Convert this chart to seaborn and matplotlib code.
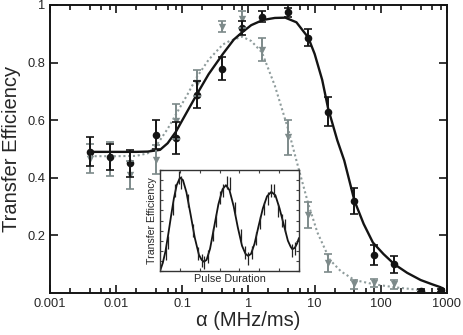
import numpy as np
import pandas as pd
import matplotlib
matplotlib.use("Agg")
import matplotlib.pyplot as plt
import matplotlib.ticker as mticker
import seaborn as sns

# ---------------- data ----------------
# black circles (measured)
alpha_black = [0.004, 0.008, 0.016, 0.04, 0.08, 0.166, 0.4, 0.8, 1.6, 4, 8, 16, 40, 80, 160, 400, 800]
eff_black = [0.49, 0.473, 0.451, 0.55, 0.538, 0.689, 0.778, 0.92, 0.96, 0.974, 0.887, 0.63, 0.32, 0.132, 0.10, 0.008, 0.01]
err_black = [0.05, 0.045, 0.047, 0.05, 0.054, 0.048, 0.04, 0.025, 0.02, 0.015, 0.03, 0.05, 0.045, 0.035, 0.03, 0.005, 0.005]

# grey triangles (measured)
alpha_grey = [0.004, 0.008, 0.016, 0.04, 0.08, 0.166, 0.4, 0.8, 1.6, 4, 8, 16, 40, 80, 160]
eff_grey = [0.466, 0.465, 0.41, 0.463, 0.596, 0.729, 0.925, 0.95, 0.845, 0.54, 0.27, 0.104, 0.03, 0.035, 0.03]
err_grey = [0.05, 0.06, 0.05, 0.05, 0.06, 0.044, 0.02, 0.03, 0.04, 0.06, 0.045, 0.03, 0.015, 0.015, 0.015]

# black fit curve
fit_black_x = [0.004, 0.01, 0.02, 0.03, 0.046, 0.06, 0.08, 0.1, 0.166, 0.25, 0.41, 0.6, 0.8, 1.1, 1.65, 2.5,
               3.6, 5.3, 8, 10, 13, 16, 22, 28, 40, 55, 76, 110, 160, 250, 400, 600, 800]
fit_black_y = [0.49, 0.49, 0.49, 0.491, 0.497, 0.52, 0.56, 0.6, 0.69, 0.76, 0.83, 0.88, 0.905, 0.93, 0.948, 0.955,
               0.956, 0.94, 0.887, 0.83, 0.74, 0.64, 0.53, 0.46, 0.32, 0.24, 0.175, 0.135, 0.10, 0.07, 0.045, 0.03, 0.02]

# grey dotted fit curve
fit_grey_x = [0.004, 0.01, 0.02, 0.03, 0.04, 0.06, 0.08, 0.12, 0.166, 0.25, 0.41, 0.52, 0.8, 1.1, 1.6, 2.5,
              4, 5.3, 8, 11, 17, 25, 40, 80, 160, 400]
fit_grey_y = [0.475, 0.475, 0.476, 0.485, 0.51, 0.57, 0.62, 0.69, 0.75, 0.81, 0.863, 0.875, 0.89, 0.875, 0.835, 0.72,
              0.567, 0.46, 0.31, 0.21, 0.115, 0.075, 0.045, 0.03, 0.02, 0.01]

# inset: oscillation vs pulse duration (normalised units)
inset_curve_x = [0.0, 0.02, 0.04, 0.06, 0.08, 0.1, 0.12, 0.144, 0.165, 0.19, 0.22, 0.25, 0.28, 0.3, 0.316, 0.335,
                 0.36, 0.39, 0.42, 0.45, 0.474, 0.5, 0.53, 0.56, 0.59, 0.615, 0.634, 0.655, 0.68, 0.71, 0.74,
                 0.77, 0.801, 0.83, 0.86, 0.89, 0.92, 0.94, 0.952, 0.97, 0.985, 1.0]
inset_curve_y = [0.0, 0.08, 0.2, 0.37, 0.55, 0.72, 0.85, 0.925, 0.9, 0.78, 0.56, 0.33, 0.16, 0.11, 0.092, 0.11,
                 0.22, 0.44, 0.66, 0.81, 0.85, 0.8, 0.64, 0.43, 0.25, 0.17, 0.15, 0.17, 0.27, 0.45, 0.62,
                 0.74, 0.784, 0.75, 0.62, 0.46, 0.3, 0.24, 0.216, 0.23, 0.27, 0.327]
inset_pts_x = [0.04, 0.06, 0.09, 0.11, 0.135, 0.15, 0.2, 0.24, 0.27, 0.3, 0.32, 0.345, 0.38, 0.4, 0.43, 0.455,
               0.48, 0.5, 0.54, 0.58, 0.61, 0.635, 0.66, 0.69, 0.72, 0.75, 0.78, 0.8, 0.82, 0.85, 0.88, 0.9,
               0.95, 0.97]
inset_pts_y = [0.17, 0.28, 0.62, 0.8, 0.93, 0.88, 0.7, 0.4, 0.17, 0.1, 0.08, 0.14, 0.36, 0.5, 0.73, 0.8,
               0.88, 0.87, 0.62, 0.35, 0.18, 0.12, 0.18, 0.32, 0.48, 0.62, 0.72, 0.8, 0.8, 0.6, 0.5, 0.45,
               0.2, 0.22]

black = "#141414"
grey = "#7d8a8a"

sns.set_style("ticks")
plt.rcParams["font.family"] = ["Liberation Sans", "DejaVu Sans"]

fig = plt.figure(figsize=(4.63, 3.35), dpi=100)
ax = fig.add_axes([0.108, 0.1254, 0.8574, 0.8597])

# fit curves
sns.lineplot(x=fit_grey_x, y=fit_grey_y, ax=ax, color="#8f9c9c", lw=1.5, linestyle=(0, (1, 1.3)), sort=False)
sns.lineplot(x=fit_black_x, y=fit_black_y, ax=ax, color=black, lw=1.7, sort=False)

# data points
ax.errorbar(alpha_grey, eff_grey, yerr=err_grey, fmt="none", ecolor=grey, elinewidth=1.4, capsize=2.6, capthick=1.2)
sns.scatterplot(x=alpha_grey, y=eff_grey, ax=ax, marker="v", color=grey, s=28, linewidth=0)
ax.errorbar(alpha_black, eff_black, yerr=err_black, fmt="none", ecolor=black, elinewidth=1.4, capsize=2.6, capthick=1.2)
sns.scatterplot(x=alpha_black, y=eff_black, ax=ax, marker="o", color=black, s=30, linewidth=0)

ax.set_xscale("log")
ax.set_xlim(0.001, 1000)
ax.set_ylim(0, 1)
ax.xaxis.set_major_locator(mticker.LogLocator(base=10, numticks=10))
ax.xaxis.set_minor_locator(mticker.LogLocator(base=10, subs=(2, 4, 6, 8), numticks=10))
ax.xaxis.set_minor_formatter(mticker.NullFormatter())
ax.xaxis.set_major_formatter(mticker.FuncFormatter(lambda v, p: ("%g" % v)))
ax.set_yticks([0.2, 0.4, 0.6, 0.8, 1.0])
ax.set_yticklabels(["0.2", "0.4", "0.6", "0.8", "1"])
ax.tick_params(which="both", direction="in", top=True, right=True, labelsize=9.3, width=1.2, color=black)
ax.tick_params(which="major", length=6, pad=3.5)
ax.tick_params(which="minor", length=3.5)
for s in ax.spines.values():
    s.set_linewidth(1.4)
    s.set_color(black)

ax.set_xlabel("α (MHz/ms)", fontsize=14.5)
ax.set_ylabel("Transfer Efficiency", fontsize=14.5)
ax.yaxis.set_label_coords(-0.072, 0.5)
ax.xaxis.set_label_coords(0.5, -0.063)

# inset
ins = fig.add_axes([0.3456, 0.191, 0.3002, 0.3015])
ins.set_facecolor("white")
sns.lineplot(x=inset_curve_x, y=inset_curve_y, ax=ins, color=black, lw=1.3, sort=False)
ins.errorbar(inset_pts_x, inset_pts_y, yerr=0.065, fmt="none", ecolor="#222222", elinewidth=0.9)
ins.set_xlim(0, 1)
ins.set_ylim(0, 1)
ins.set_xticks(np.arange(0, 1.001, 1 / 7))
ins.set_yticks(np.arange(0, 1.001, 0.1))
ins.tick_params(direction="in", top=True, right=True, labelbottom=False, labelleft=False,
                length=2.5, width=0.8, color="#444444")
for s in ins.spines.values():
    s.set_linewidth(1.0)
    s.set_color("#333333")
ins.set_xlabel("Pulse Duration", fontsize=7.8, labelpad=2)
ins.set_ylabel("Transfer Efficiency", fontsize=7.6, labelpad=2)

fig.savefig("out.png", dpi=100)
